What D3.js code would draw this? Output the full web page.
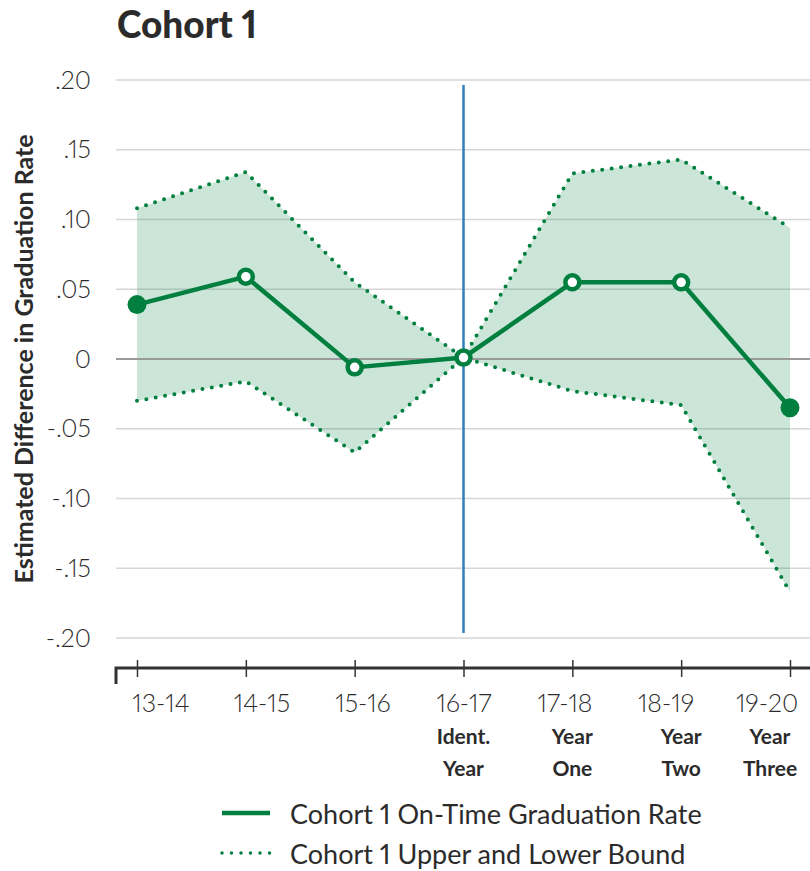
<!DOCTYPE html>
<html>
<head>
<meta charset="utf-8">
<script src="https://cdn.jsdelivr.net/npm/d3@7"></script>
<style>
  html, body { margin: 0; padding: 0; background: #fff; }
  svg { display: block; font-family: Lato, "Open Sans", sans-serif; font-variant-numeric: proportional-nums; }
  svg text { font-feature-settings: "pnum" 1; }
</style>
</head>
<body>
<svg id="chart" width="810" height="871"></svg>
<script>
// School years and the second-line labels under some of them
const years = ["13-14", "14-15", "15-16", "16-17", "17-18", "18-19", "19-20"];
const yearNotes = [[], [], [], ["Ident.", "Year"], ["Year", "One"], ["Year", "Two"], ["Year", "Three"]];

// Estimated difference in on-time graduation rate, with its bounds
const estimate = [0.039, 0.059, -0.006, 0.001, 0.055, 0.055, -0.035];
const upperBound = [0.108, 0.134, 0.055, 0.001, 0.133, 0.143, 0.094];
const lowerBound = [-0.030, -0.016, -0.067, 0.001, -0.023, -0.033, -0.167];

// Y-axis ticks
const yTicks = [0.20, 0.15, 0.10, 0.05, 0, -0.05, -0.10, -0.15, -0.20];

const legendItems = ["Cohort 1 On-Time Graduation Rate", "Cohort 1 Upper and Lower Bound"];
const identYear = "16-17";

const green = "#007f3f";
const blue = "#2f80c0";
const ink = "#2b2b2b";

const svg = d3.select("#chart");

const x = d3.scalePoint().domain(years).range([137, 790]);
// year labels sit on a slightly narrower spread than the ticks
const xLabel = d3.scalePoint().domain(years).range([161, 767]);
const y = d3.scaleLinear().domain([-0.2, 0.2]).range([638, 80]);
const gridLeft = 116, gridRight = 810;

const fmt = v => v === 0 ? "0" : (v < 0 ? "-" : "") + d3.format(".2f")(Math.abs(v)).replace(/^0/, "");

// Title
svg.append("text")
  .attr("x", 117).attr("y", 38)
  .attr("font-size", 37).attr("font-weight", 900)
  .attr("fill", ink)
  .text("Cohort 1");

// Axis title
svg.append("text")
  .attr("transform", `translate(33,${y(0)}) rotate(-90)`)
  .attr("text-anchor", "middle")
  .attr("font-size", 25).attr("font-weight", 700)
  .attr("fill", ink)
  .text("Estimated Difference in Graduation Rate");

// Gridlines
svg.append("g").selectAll("line")
  .data(yTicks.filter(d => d !== 0))
  .join("line")
  .attr("x1", gridLeft).attr("x2", gridRight)
  .attr("y1", d => y(d)).attr("y2", d => y(d))
  .attr("stroke", "#d6d6d6").attr("stroke-width", 1.5);

// Y axis labels
const yAxis = d3.axisLeft(y).tickValues(yTicks).tickFormat(fmt).tickSize(0).tickPadding(0);
const yg = svg.append("g").attr("transform", "translate(91,0)").call(yAxis);
yg.select(".domain").remove();
yg.selectAll("text")
  .attr("font-size", 25).attr("font-family", "Lato, sans-serif")
  .attr("fill", ink).attr("font-weight", 300);

// Confidence band
const bandData = years.map((c, i) => ({ c, lo: lowerBound[i], hi: upperBound[i] }));
svg.append("path")
  .datum(bandData)
  .attr("fill", green).attr("fill-opacity", 0.2)
  .attr("d", d3.area().x(d => x(d.c)).y0(d => y(d.lo)).y1(d => y(d.hi)));

// Zero line
svg.append("line")
  .attr("x1", gridLeft).attr("x2", gridRight)
  .attr("y1", y(0)).attr("y2", y(0))
  .attr("stroke", "#9a9a9a").attr("stroke-width", 2);

// Identification year marker
svg.append("line")
  .attr("x1", x(identYear)).attr("x2", x(identYear))
  .attr("y1", 85).attr("y2", 633)
  .attr("stroke", blue).attr("stroke-width", 2.5);

// Bound lines (dotted)
const lineGen = d3.line().x(d => x(d[0])).y(d => y(d[1]));
[upperBound, lowerBound].forEach(b => {
  svg.append("path")
    .datum(years.map((c, i) => [c, b[i]]))
    .attr("fill", "none").attr("stroke", green)
    .attr("stroke-width", 4).attr("stroke-linecap", "round")
    .attr("stroke-dasharray", "0,9.5")
    .attr("d", lineGen);
});

// Estimate line
const estData = years.map((c, i) => [c, estimate[i]]);
svg.append("path")
  .datum(estData)
  .attr("fill", "none").attr("stroke", green)
  .attr("stroke-width", 4.5).attr("stroke-linejoin", "round")
  .attr("d", lineGen);

// Markers: filled at the ends, open in between
const isEnd = i => i === 0 || i === years.length - 1;
svg.append("g").selectAll("circle")
  .data(estData)
  .join("circle")
  .attr("cx", d => x(d[0])).attr("cy", d => y(d[1]))
  .attr("r", (d, i) => isEnd(i) ? 9.5 : 7)
  .attr("fill", (d, i) => isEnd(i) ? green : "#fff")
  .attr("stroke", green)
  .attr("stroke-width", (d, i) => isEnd(i) ? 0 : 4.5);

// X axis
const axisY = 668;
const xAxis = d3.axisBottom(x).tickSize(0).tickPadding(0);
const xg = svg.append("g").attr("transform", `translate(0,${axisY})`).call(xAxis);
xg.select(".domain").remove();
xg.selectAll(".tick text").remove();
xg.selectAll(".tick").append("line")
  .attr("y1", -8).attr("y2", 9)
  .attr("stroke", "#333").attr("stroke-width", 1.5);
svg.append("path")
  .attr("d", `M${gridLeft},${axisY + 16}V${axisY}H${gridRight}`)
  .attr("fill", "none").attr("stroke", "#333").attr("stroke-width", 3);

// Year labels
const labels = svg.append("g").attr("fill", ink).attr("text-anchor", "middle");
years.forEach((c, i) => {
  labels.append("text")
    .attr("x", xLabel(c)).attr("y", axisY + 44)
    .attr("font-size", 25).attr("font-weight", 300)
    .text(c);
  yearNotes[i].forEach((n, k) => {
    labels.append("text")
      .attr("x", i === years.length - 1 ? xLabel(c) + 3 : x(c)).attr("y", axisY + 76 + 32 * k)
      .attr("font-size", 21).attr("font-weight", 700)
      .text(n);
  });
});

// Legend
const legend = svg.append("g");
legendItems.forEach((label, i) => {
  const ly = 813 + 40 * i;
  legend.append("line")
    .attr("x1", 222).attr("x2", 270).attr("y1", ly).attr("y2", ly)
    .attr("stroke", green)
    .attr("stroke-width", i === 0 ? 4.5 : 3.5)
    .attr("stroke-linecap", i === 0 ? "butt" : "round")
    .attr("stroke-dasharray", i === 0 ? null : "0,9.5");
  legend.append("text")
    .attr("x", 290).attr("y", ly + 11)
    .attr("font-size", 27).attr("fill", ink)
    .text(label);
});
</script>
</body>
</html>
